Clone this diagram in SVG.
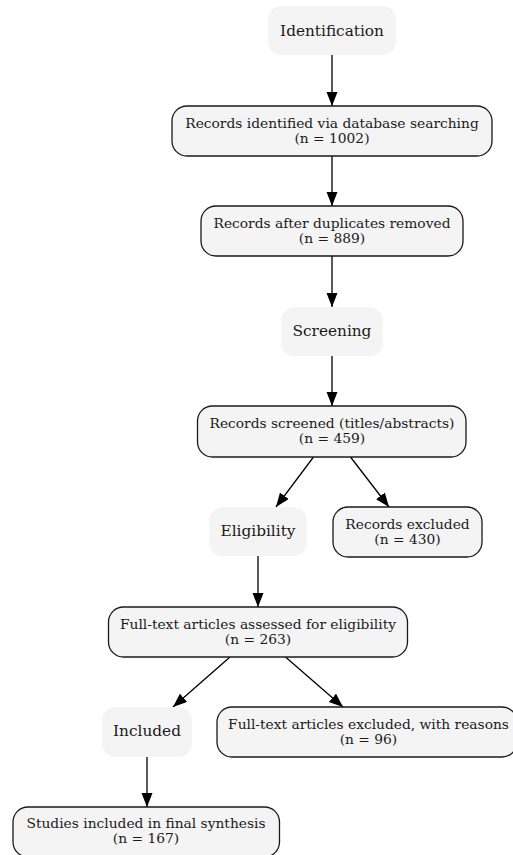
<svg xmlns="http://www.w3.org/2000/svg" width="513" height="855" viewBox="0 0 513 855">
<style>
.lab rect{fill:#f4f4f4;stroke:none}
.box rect{fill:#f4f4f4;stroke:#1a1a1a;stroke-width:1.3}
text{font-family:"DejaVu Serif",serif;fill:#1a1a1a;text-anchor:middle}
.lab text{font-size:15.3px}
.box text{font-size:13.8px}
.edges line{stroke:#000;stroke-width:1.3;marker-end:url(#ah)}
</style>
<defs>
<marker id="ah" markerUnits="userSpaceOnUse" markerWidth="15" markerHeight="12" refX="14" refY="5.5" orient="auto">
<path d="M0,0 L14,5.5 L0,11 Z" fill="#000"/>
</marker>
</defs>
<rect width="513" height="855" fill="#fff"/>
<g class="edges">
<line x1="332" y1="55" x2="332" y2="106"/>
<line x1="332" y1="156" x2="332" y2="206"/>
<line x1="332" y1="256" x2="332" y2="307"/>
<line x1="332" y1="356" x2="332" y2="406"/>
<line x1="313.5" y1="457" x2="276" y2="507"/>
<line x1="350.5" y1="457" x2="389" y2="507"/>
<line x1="258" y1="556" x2="258" y2="607"/>
<line x1="230" y1="657" x2="173" y2="707"/>
<line x1="285.5" y1="657" x2="343" y2="707"/>
<line x1="147" y1="757" x2="147" y2="807"/>
</g>
<g id="identification" class="lab"><rect x="268" y="6" width="128" height="49" rx="14"/><text x="332" y="35.5">Identification</text></g>
<g id="records_identified" class="box"><rect x="172" y="106" width="320" height="50" rx="15"/><text x="332" y="127.5">Records identified via database searching</text><text x="332" y="142.5">(n = 1002)</text></g>
<g id="records_dedup" class="box"><rect x="201" y="206" width="262" height="50" rx="15"/><text x="332" y="227.5">Records after duplicates removed</text><text x="332" y="242.5">(n = 889)</text></g>
<g id="screening" class="lab"><rect x="281" y="307" width="102" height="49" rx="14"/><text x="332" y="335.5">Screening</text></g>
<g id="records_screened" class="box"><rect x="197.5" y="406" width="268.5" height="51" rx="15"/><text x="332" y="428">Records screened (titles/abstracts)</text><text x="332" y="443">(n = 459)</text></g>
<g id="eligibility" class="lab"><rect x="209" y="507" width="98" height="49" rx="14"/><text x="258" y="535.5">Eligibility</text></g>
<g id="records_excluded" class="box"><rect x="333" y="507" width="149" height="50" rx="15"/><text x="407.5" y="528.5">Records excluded</text><text x="407.5" y="543.5">(n = 430)</text></g>
<g id="fulltext_assessed" class="box"><rect x="108.5" y="607" width="299" height="50" rx="15"/><text x="258" y="628.5">Full-text articles assessed for eligibility</text><text x="258" y="643.5">(n = 263)</text></g>
<g id="included" class="lab"><rect x="102" y="707" width="90" height="50" rx="14"/><text x="147" y="736">Included</text></g>
<g id="fulltext_excluded" class="box"><rect x="217" y="707" width="300" height="50" rx="15"/><text x="368.5" y="728.5">Full-text articles excluded, with reasons</text><text x="368.5" y="743.5">(n = 96)</text></g>
<g id="studies_included" class="box"><rect x="13" y="807" width="266.5" height="50" rx="15"/><text x="146" y="827.5">Studies included in final synthesis</text><text x="146" y="842.5">(n = 167)</text></g>
</svg>
